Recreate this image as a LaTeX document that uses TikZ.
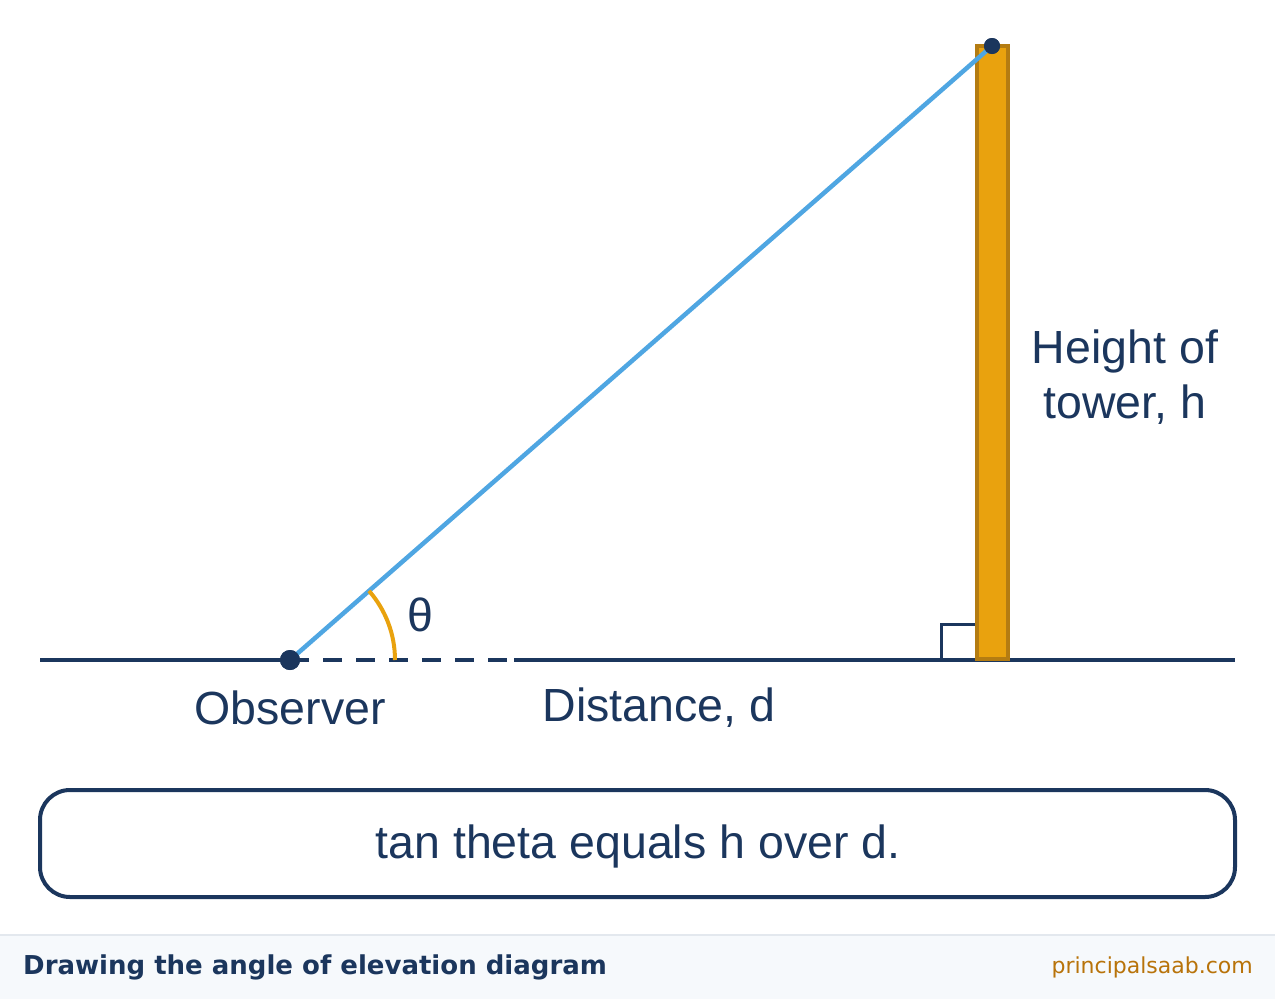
\documentclass[tikz,border=0pt]{standalone}
\usepackage{fontspec}
\setmainfont{Liberation Sans}
\newfontfamily\footfont{DejaVu Sans}
\definecolor{navy}{HTML}{1B365D}
\definecolor{sky}{HTML}{4FA6E2}
\definecolor{amber}{HTML}{E9A20E}
\definecolor{amberdark}{HTML}{B47C12}
\definecolor{footbg}{HTML}{F6F9FC}
\definecolor{footline}{HTML}{E3E8EE}
\definecolor{sitecol}{HTML}{B8730A}

\begin{document}
\begin{tikzpicture}[x=1pt,y=-1pt,
    lbl/.style={text=navy, font=\fontsize{46.5}{55}\selectfont, inner sep=0pt},
    groundline/.style={navy, line width=4pt}]
        \useasboundingbox (0,0) rectangle (1275,999);
        % footer band
        \fill[footbg] (0,935) rectangle (1275,999);
        \draw[footline, line width=1.5pt] (0,935) -- (1275,935);
        % ground
        \coordinate (gl) at (40,660);
        \coordinate (ds) at (508,660);
        \coordinate (gr) at (1235,660);
        \draw[groundline] (gl) -- (290,660);
        \draw[groundline, dash pattern=on 18.5pt off 14.5pt] (290,660) -- (ds);
        \draw[groundline] (514,660) -- (gr);
        % tower and right angle
        \draw[navy, line width=3pt] (941,660) -- (941,624) -- (976,624);
        \draw[fill=amber, draw=amberdark, line width=3.5pt] (977,46) rectangle (1008,659);
        % sight line
        \node[circle, fill=navy, inner sep=0pt, minimum size=20pt] (obs) at (290,660) {};
        \node[circle, fill=navy, inner sep=0pt, minimum size=16pt] (top) at (992,46) {};
        \draw[sky, line width=4.5pt] (obs.center) -- (top.center);
        \node[circle, fill=navy, inner sep=0pt, minimum size=20pt] at (obs) {};
        \node[circle, fill=navy, inner sep=0pt, minimum size=16pt] at (top) {};
        \draw[amber, line width=4pt] (395,660) arc (0:-41.2:105);
        % labels
        \node[lbl] (theta) at (420,615) {θ};
        \node[lbl] (obslbl) at (290,708) {Observer};
        \node[lbl] (dist) at (659,708) {Distance, d};
        \node[lbl, align=center] (height) at (1125,377) {Height of\\tower, h};
        \node[draw=navy, line width=4pt, rounded corners=30pt, minimum width=1195pt,
              minimum height=107pt] (formula) at (637.5,843.5) {};
        \node[lbl] (formtext) at (638,846) {tan theta equals h over d.};
        % footer texts
        \node[anchor=west, text=navy, font=\footfont\bfseries\fontsize{26}{30}\selectfont, inner sep=0pt]
              (title) at (23,967) {Drawing the angle of elevation diagram};
        \node[anchor=east, text=sitecol, font=\footfont\fontsize{22}{26}\selectfont, inner sep=0pt]
              (site) at (1253,967) {principalsaab.com};
    \end{tikzpicture}
\end{document}
